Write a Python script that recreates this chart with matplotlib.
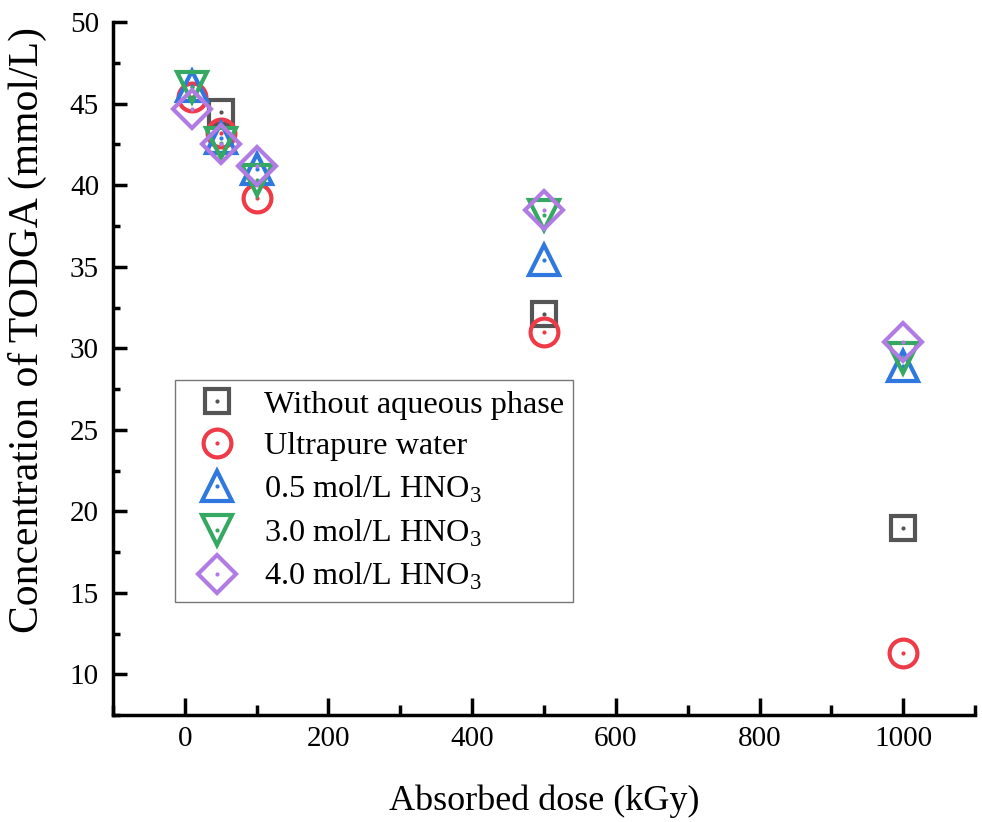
import matplotlib
matplotlib.use("Agg")
import numpy as np
import matplotlib.pyplot as plt
from matplotlib.ticker import MultipleLocator
from matplotlib.legend_handler import HandlerTuple

plt.rcParams['font.family'] = ['Liberation Serif', 'DejaVu Serif']
plt.rcParams['mathtext.fontset'] = 'custom'
plt.rcParams['mathtext.rm'] = 'Liberation Serif'

dose = [10, 50, 100, 500, 1000]
without_aq = [np.nan, 44.5, np.nan, 32.1, 19.0]
ultrapure = [45.4, 43.2, 39.2, 31.0, 11.3]
hno3_05 = [46.1, 42.9, 41.0, 35.4, 28.9]
hno3_30 = [46.0, 42.6, 40.3, 38.2, 29.4]
hno3_40 = [44.7, 42.5, 41.2, 38.5, 30.4]

labels = ['Without aqueous phase', 'Ultrapure water',
          r'0.5 mol/L HNO$_3$', r'3.0 mol/L HNO$_3$', r'4.0 mol/L HNO$_3$']
series = [without_aq, ultrapure, hno3_05, hno3_30, hno3_40]
colors = ['#555555', '#ef3b47', '#2f78e0', '#35a862', '#b07be3']
markers = ['s', 'o', '^', 'v', 'D']
sizes = [17, 20, 22, 22, 19]

fig = plt.figure(figsize=(9.82, 8.22), dpi=100)
ax = fig.add_axes([0.115, 0.130, 0.878, 0.843])

handles = []
for y, lab, c, m, s in zip(series, labels, colors, markers, sizes):
    h1, = ax.plot(dose, y, linestyle='none', marker=m, markersize=s,
                  markerfacecolor='none', markeredgecolor=c, markeredgewidth=3)
    h2, = ax.plot(dose, y, linestyle='none', marker='o', markersize=3,
                  markerfacecolor=c, markeredgecolor='none')
    handles.append((h1, h2))

ax.set_xlim(-100, 1100)
ax.set_ylim(7.5, 50)
ax.xaxis.set_major_locator(MultipleLocator(200))
ax.xaxis.set_minor_locator(MultipleLocator(100))
ax.yaxis.set_major_locator(MultipleLocator(5))
ax.yaxis.set_minor_locator(MultipleLocator(2.5))
ax.set_yticks([10, 15, 20, 25, 30, 35, 40, 45, 50])

for side in ['top', 'right']:
    ax.spines[side].set_visible(False)
for side in ['left', 'bottom']:
    ax.spines[side].set_linewidth(2.5)
ax.tick_params(axis='x', which='major', direction='in', length=12, width=2.5, labelsize=21, pad=8)
ax.tick_params(axis='x', which='minor', direction='in', length=7, width=2.5)
ax.tick_params(axis='y', which='major', direction='in', length=10, width=2.5, labelsize=21, pad=10)
ax.tick_params(axis='y', which='minor', direction='in', length=5, width=2.5)

ax.set_xlabel('Absorbed dose (kGy)', fontsize=26, labelpad=23)
ax.set_ylabel('Concentration of TODGA (mmol/L)', fontsize=30)
ax.yaxis.set_label_coords(-0.077, 0.556)

leg = ax.legend(handles, labels, handler_map={tuple: HandlerTuple(ndivide=1)},
                loc='upper left', bbox_to_anchor=(0.072, 0.483), fontsize=23.2,
                frameon=True, fancybox=False, edgecolor='#555555',
                handlelength=2.0, handletextpad=0.45, labelspacing=0.38,
                borderpad=0.3, borderaxespad=0)
leg.get_frame().set_linewidth(1)

fig.savefig('out.png', dpi=100)
